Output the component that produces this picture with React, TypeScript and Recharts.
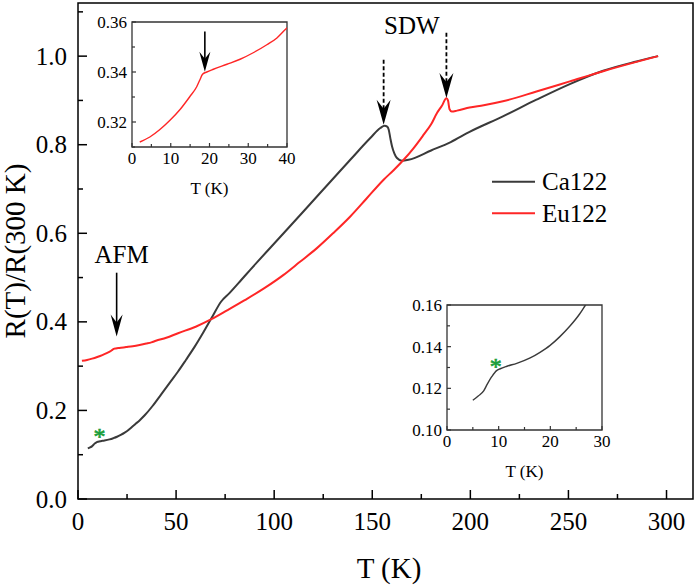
import {
  Legend,
  Line,
  LineChart,
  ReferenceArea,
  ReferenceDot,
  ReferenceLine,
  XAxis,
  YAxis,
} from "recharts";

const SERIF = '"Liberation Serif", "Times New Roman", serif';
const CA_COLOR = "#3a3a3a";
const EU_COLOR = "#fe2626";
const STAR_COLOR = "#1a9e3a";

// Ca122: normalised resistance R(T)/R(300 K) against T (K)
const CA_T = [
  5.0, 6.1, 7.1, 7.8, 8.7, 9.6, 10.3, 11.6, 13.5, 16.1, 18.0, 19.9, 21.8, 23.8,
  25.7, 26.8, 29, 31.5, 34, 38, 42.5, 47, 51, 55, 59.5, 64, 68, 73, 77.2, 83.3,
  87.8, 104.8, 121.8, 138.8, 149, 154.1, 156.3, 157.6, 158.4, 159.2, 160.1,
  161.3, 162.6, 165.1, 168.5, 180, 190, 199.6, 216.6, 233.7, 250.7, 267.7,
  284.7, 295.7,
];
const CA_R = [
  0.1143, 0.1164, 0.1188, 0.122, 0.1257, 0.1285, 0.1294, 0.1306, 0.132, 0.1346,
  0.1373, 0.1405, 0.1447, 0.1499, 0.1558, 0.16, 0.1685, 0.178, 0.189, 0.21,
  0.237, 0.264, 0.288, 0.314, 0.344, 0.377, 0.408, 0.446, 0.465, 0.495, 0.5175,
  0.6, 0.683, 0.766, 0.815, 0.8377, 0.843, 0.841, 0.834, 0.815, 0.796, 0.78,
  0.77, 0.764, 0.766, 0.787, 0.806, 0.829, 0.864, 0.9017, 0.937, 0.967, 0.988,
  1.0,
];

// Eu122
const EU_T = [
  2.0, 4.6, 7.2, 9.8, 12.4, 14.9, 16.7, 17.5, 18.2, 19.3, 21.0, 24.5, 27.9,
  31.4, 34.8, 37.4, 39.7, 45, 51, 60, 68, 76, 85, 95, 104.8, 113, 121.8, 130,
  138.8, 147, 155.8, 161, 166, 171.1, 176.2, 180, 183, 185.5, 187.8, 188.6,
  189.4, 190.5, 193.2, 199.6, 206.8, 216.6, 233.7, 250.7, 267.7, 284.7, 295.7,
];
const EU_R = [
  0.312, 0.314, 0.317, 0.3207, 0.325, 0.3301, 0.3341, 0.3368, 0.3391, 0.34,
  0.3411, 0.3431, 0.3451, 0.3478, 0.3509, 0.3536, 0.3572, 0.364, 0.3744, 0.389,
  0.406, 0.426, 0.449, 0.476, 0.506, 0.535, 0.5665, 0.6, 0.638, 0.678, 0.721,
  0.743, 0.766, 0.7925, 0.8226, 0.846, 0.8716, 0.888, 0.905, 0.9, 0.88, 0.875,
  0.877, 0.884, 0.889, 0.898, 0.92, 0.943, 0.966, 0.987, 1.0,
];

const MAIN_X_TICKS = [0, 25, 50, 75, 100, 125, 150, 175, 200, 225, 250, 275, 300];
const MAIN_Y_TICKS = [0, 0.1, 0.2, 0.3, 0.4, 0.5, 0.6, 0.7, 0.8, 0.9, 1.0, 1.1];
const EU_INSET_X_TICKS = [0, 5, 10, 15, 20, 25, 30, 35, 40];
const EU_INSET_Y_TICKS = [0.31, 0.32, 0.33, 0.34, 0.35, 0.36];
const CA_INSET_X_TICKS = [0, 5, 10, 15, 20, 25, 30];
const CA_INSET_Y_TICKS = [0.1, 0.11, 0.12, 0.13, 0.14, 0.15, 0.16];

const X_MAX = 313.5;
const Y_MAX = 1.12;

const caData = CA_T.map((t, i) => ({ t, r: CA_R[i] }));
const euData = EU_T.map((t, i) => ({ t, r: EU_R[i] }));

function MainXTick(props: any) {
  const { x, y, payload } = props;
  const major = payload.value % 50 === 0;
  return (
    <g>
      <line x1={x} x2={x} y1={y} y2={y - (major ? 9 : 5)} stroke="#000" strokeWidth={1.5} />
      {major && (
        <text x={x} y={y + 31} textAnchor="middle" fontFamily={SERIF} fontSize={25} fill="#000">
          {payload.value}
        </text>
      )}
    </g>
  );
}

function MainYTick(props: any) {
  const { x, y, payload } = props;
  const v = payload.value;
  const major = Math.round(v * 10) % 2 === 0;
  return (
    <g>
      <line x1={x} x2={x + (major ? 9 : 5)} y1={y} y2={y} stroke="#000" strokeWidth={1.5} />
      {major && (
        <text x={x - 11} y={y + 8.5} textAnchor="end" fontFamily={SERIF} fontSize={25} fill="#000">
          {v.toFixed(1)}
        </text>
      )}
    </g>
  );
}

function insetXTick(props: any) {
  const { x, y, payload } = props;
  const major = payload.value % 10 === 0;
  return (
    <g>
      <line x1={x} x2={x} y1={y} y2={y - (major ? 4 : 3)} stroke="#333" strokeWidth={1.2} />
      {major && (
        <text x={x} y={y + 17} textAnchor="middle" fontFamily={SERIF} fontSize={17} fill="#000">
          {payload.value}
        </text>
      )}
    </g>
  );
}

function insetYTick(props: any) {
  const { x, y, payload } = props;
  const v = payload.value;
  const major = Math.round(v * 100) % 2 === 0;
  return (
    <g>
      <line x1={x} x2={x + (major ? 4 : 3)} y1={y} y2={y} stroke="#333" strokeWidth={1.2} />
      {major && (
        <text x={x - 5} y={y + 6} textAnchor="end" fontFamily={SERIF} fontSize={17} fill="#000">
          {v.toFixed(2)}
        </text>
      )}
    </g>
  );
}

// arrow head with its tip on the reference point
function arrowHead(half: number, len: number, notch: number) {
  return (p: any) => (
    <path
      d={`M${p.cx},${p.cy} L${p.cx - half},${p.cy - len} L${p.cx},${p.cy - notch} L${p.cx + half},${p.cy - len} Z`}
      fill="#000"
      stroke="none"
    />
  );
}

function textMark(value: string, size: number, color: string, dy: number, bold = 0) {
  return (p: any) => (
    <text
      x={p.cx}
      y={p.cy + dy}
      textAnchor="middle"
      fontFamily={SERIF}
      fontSize={size}
      fill={color}
      stroke={bold ? color : "none"}
      strokeWidth={bold}
    >
      {value}
    </text>
  );
}

function LegendBox(props: any) {
  const items = props.payload || [];
  return (
    <svg width={140} height={66}>
      {items.map((it: any, i: number) => {
        const cy = 16.7 + i * 31.6;
        return (
          <g key={it.value}>
            <line x1={2} x2={45} y1={cy} y2={cy} stroke={it.color} strokeWidth={2} />
            <text x={52} y={cy + 8.5} fontFamily={SERIF} fontSize={25} fill="#000">
              {it.value}
            </text>
          </g>
        );
      })}
    </svg>
  );
}

type InsetProps = {
  left: number;
  top: number;
  data: { t: number; r: number }[];
  color: string;
  xDomain: [number, number];
  yDomain: [number, number];
  xTicks: number[];
  yTicks: number[];
  children?: any;
};

function Inset({ left, top, data, color, xDomain, yDomain, xTicks, yTicks, children }: InsetProps) {
  return (
    <div style={{ position: "absolute", left, top }}>
      <LineChart width={210} height={190} margin={{ top: 10, right: 10, bottom: 0, left: 0 }}>
        <XAxis
          type="number"
          dataKey="t"
          domain={xDomain}
          ticks={xTicks}
          interval={0}
          allowDataOverflow
          height={55}
          tickSize={0}
          tickMargin={0}
          axisLine={false}
          tickLine={false}
          tick={insetXTick}
          label={() => (
            <text x={122.5} y={182} textAnchor="middle" fontFamily={SERIF} fontSize={17} fill="#000">
              T (K)
            </text>
          )}
        />
        <YAxis
          type="number"
          domain={yDomain}
          ticks={yTicks}
          interval={0}
          allowDataOverflow
          width={45}
          tickSize={0}
          tickMargin={0}
          axisLine={false}
          tickLine={false}
          tick={insetYTick}
        />
        <ReferenceArea
          x1={xDomain[0]}
          x2={xDomain[1]}
          y1={yDomain[0]}
          y2={yDomain[1]}
          fill="none"
          fillOpacity={0}
          stroke="#333"
          strokeWidth={1.3}
        />
        <Line
          data={data}
          dataKey="r"
          type="monotone"
          stroke={color}
          strokeWidth={1.4}
          dot={false}
          isAnimationActive={false}
        />
        {children}
      </LineChart>
    </div>
  );
}

export default function App() {
  return (
    <div style={{ position: "absolute", left: 0, top: 0, width: 699, height: 585, background: "#fff" }}>
      <LineChart width={699} height={585} margin={{ top: 3, right: 6, bottom: 0, left: 0 }}>
        <XAxis
          type="number"
          dataKey="t"
          domain={[0, X_MAX]}
          ticks={MAIN_X_TICKS}
          interval={0}
          allowDataOverflow
          height={86}
          tickSize={0}
          tickMargin={0}
          axisLine={false}
          tickLine={false}
          tick={MainXTick}
          label={() => (
            <text x={389} y={578} textAnchor="middle" fontFamily={SERIF} fontSize={29} fill="#000">
              T (K)
            </text>
          )}
        />
        <YAxis
          type="number"
          domain={[0, Y_MAX]}
          ticks={MAIN_Y_TICKS}
          interval={0}
          allowDataOverflow
          width={78}
          tickSize={0}
          tickMargin={0}
          axisLine={false}
          tickLine={false}
          tick={MainYTick}
          label={() => (
            <text
              x={25}
              y={251}
              transform="rotate(-90 25 251)"
              textAnchor="middle"
              fontFamily={SERIF}
              fontSize={29}
              fill="#000"
            >
              R(T)/R(300 K)
            </text>
          )}
        />
        <ReferenceArea
          x1={0}
          x2={X_MAX}
          y1={0}
          y2={Y_MAX}
          fill="none"
          fillOpacity={0}
          stroke="#000"
          strokeWidth={1.5}
        />
        <Line
          data={caData}
          dataKey="r"
          name="Ca122"
          type="monotone"
          stroke={CA_COLOR}
          strokeWidth={2}
          dot={false}
          isAnimationActive={false}
        />
        <Line
          data={euData}
          dataKey="r"
          name="Eu122"
          type="monotone"
          stroke={EU_COLOR}
          strokeWidth={2}
          dot={false}
          isAnimationActive={false}
        />

        {/* AFM transition */}
        <ReferenceLine segment={[{ x: 19.7, y: 0.511 }, { x: 19.7, y: 0.39 }]} stroke="#000" strokeWidth={1.6} />
        <ReferenceDot x={19.7} y={0.367} shape={arrowHead(6, 22, 14)} />
        <ReferenceDot x={22.2} y={0.533} shape={textMark("AFM", 25, "#000", 0)} />

        {/* SDW transitions */}
        <ReferenceLine
          segment={[{ x: 155.8, y: 0.992 }, { x: 155.8, y: 0.88 }]}
          stroke="#000"
          strokeWidth={1.8}
          strokeDasharray="4 2.5"
        />
        <ReferenceDot x={155.8} y={0.845} shape={arrowHead(7, 25, 16)} />
        <ReferenceLine
          segment={[{ x: 187.8, y: 1.053 }, { x: 187.8, y: 0.94 }]}
          stroke="#000"
          strokeWidth={1.8}
          strokeDasharray="4 2.5"
        />
        <ReferenceDot x={187.8} y={0.9055} shape={arrowHead(7, 25, 16)} />
        <ReferenceDot x={170.2} y={1.049} shape={textMark("SDW", 25, "#000", 0)} />

        <ReferenceDot x={11} y={0.1485} shape={textMark("*", 24, STAR_COLOR, 11, 0.7)} />

        <Legend
          layout="vertical"
          align="center"
          verticalAlign="middle"
          content={LegendBox}
          wrapperStyle={{ left: 490, top: 165, width: 140, height: 66 }}
        />
      </LineChart>

      <Inset
        left={87}
        top={12}
        data={euData}
        color={EU_COLOR}
        xDomain={[0, 40]}
        yDomain={[0.31, 0.36]}
        xTicks={EU_INSET_X_TICKS}
        yTicks={EU_INSET_Y_TICKS}
      >
        <ReferenceLine segment={[{ x: 18.8, y: 0.3562 }, { x: 18.8, y: 0.344 }]} stroke="#000" strokeWidth={1.6} />
        <ReferenceDot x={18.8} y={0.3401} shape={arrowHead(5.5, 20, 13)} />
      </Inset>

      <Inset
        left={402}
        top={295}
        data={caData}
        color={CA_COLOR}
        xDomain={[0, 30]}
        yDomain={[0.1, 0.16]}
        xTicks={CA_INSET_X_TICKS}
        yTicks={CA_INSET_Y_TICKS}
      >
        <ReferenceDot x={9.45} y={0.1324} shape={textMark("*", 24, STAR_COLOR, 11, 0.7)} />
      </Inset>
    </div>
  );
}
